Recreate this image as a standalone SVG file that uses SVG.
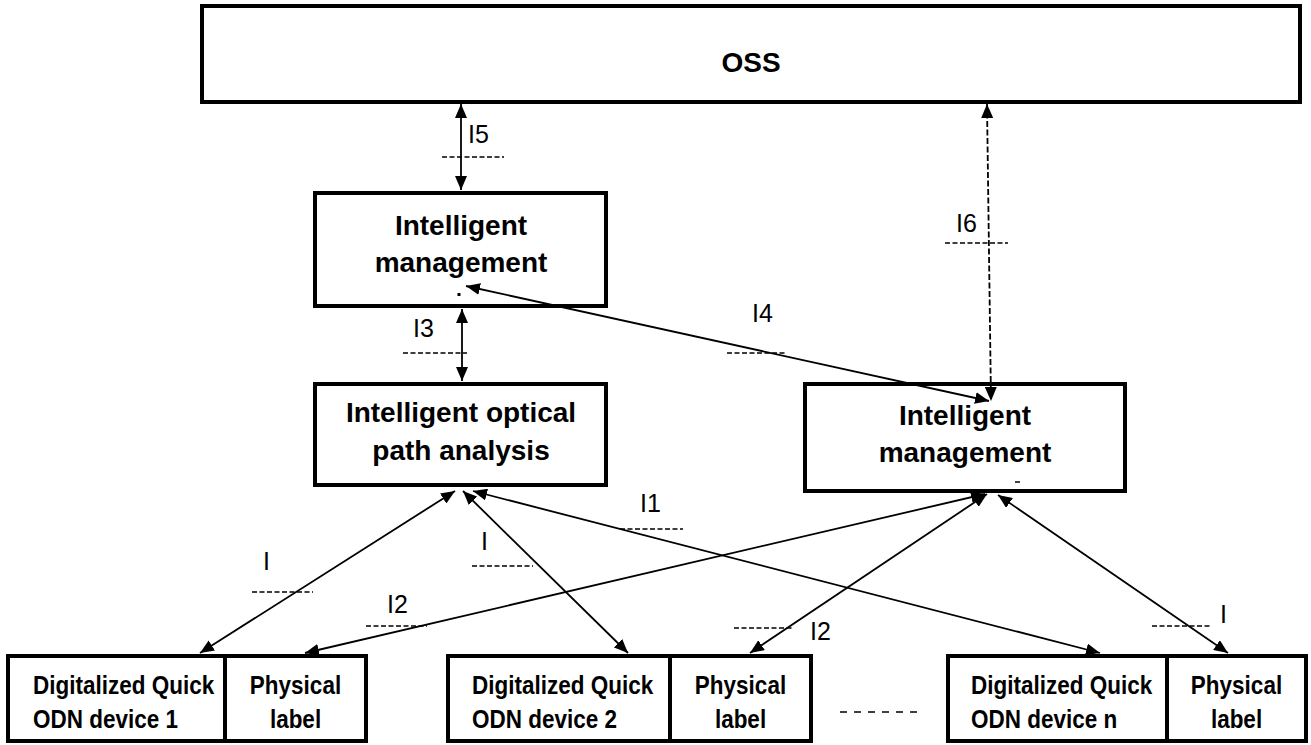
<svg xmlns="http://www.w3.org/2000/svg" width="1311" height="745" viewBox="0 0 1311 745">
  <defs>
    <marker id="ah" viewBox="0 0 14 12" refX="14" refY="6" markerWidth="14" markerHeight="12" orient="auto-start-reverse" markerUnits="userSpaceOnUse">
      <path d="M0,0 L14,6 L0,12 z" fill="#000"/>
    </marker>
    <style>
      .box { fill: #fff; stroke: #000; stroke-width: 4; }
      .t { font-family: "Liberation Sans", Arial, sans-serif; font-weight: bold; font-size: 28px; fill: #000; }
      .s { font-family: "Liberation Sans", Arial, sans-serif; font-weight: bold; font-size: 22.5px; fill: #000; }
      .lbl { font-family: "Liberation Sans", Arial, sans-serif; font-size: 25px; fill: #000; }
      .c { text-anchor: middle; }
      .link { fill: none; stroke: #000; stroke-width: 1.8; marker-start: url(#ah); marker-end: url(#ah); }
      .dlink { stroke-dasharray: 6 2.5; }
      .tick { fill: none; stroke: #000; stroke-width: 1.5; stroke-dasharray: 5 2.5; }
    </style>
  </defs>

  <rect width="1311" height="745" fill="#fff"/>

  <!-- top level -->
  <g id="oss">
    <rect class="box" x="202" y="6" width="1098" height="96"/>
    <text class="t c" x="751" y="72">OSS</text>
  </g>

  <g id="mgmt-left">
    <rect class="box" x="315" y="193" width="291" height="113"/>
    <text class="t c" x="461" y="235">Intelligent</text>
    <text class="t c" x="461" y="272">management</text>
    <rect x="457.5" y="293" width="3" height="3" fill="#000"/>
  </g>

  <g id="path-analysis">
    <rect class="box" x="315" y="384" width="291" height="101"/>
    <text class="t c" x="461" y="422">Intelligent optical</text>
    <text class="t c" x="461" y="460">path analysis</text>
  </g>

  <g id="mgmt-right">
    <rect class="box" x="805" y="384" width="320" height="107"/>
    <text class="t c" x="965" y="425">Intelligent</text>
    <text class="t c" x="965" y="462">management</text>
    <line x1="1015" y1="482" x2="1020" y2="482" stroke="#000" stroke-width="1.5"/>
  </g>

  <!-- ODN devices and their physical labels (text slightly stretched vertically) -->
  <g id="device-1">
    <rect class="box" x="8" y="656" width="217" height="85"/>
    <text class="s" transform="translate(33 694) scale(1 1.15)">Digitalized Quick</text>
    <text class="s" transform="translate(33 728) scale(1 1.15)">ODN device 1</text>
  </g>
  <g id="label-1">
    <rect class="box" x="225" y="656" width="141" height="85"/>
    <text class="s c" transform="translate(295.5 694) scale(1 1.15)">Physical</text>
    <text class="s c" transform="translate(295.5 728) scale(1 1.15)">label</text>
  </g>

  <g id="device-2">
    <rect class="box" x="448" y="656" width="222" height="85"/>
    <text class="s" transform="translate(472 694) scale(1 1.15)">Digitalized Quick</text>
    <text class="s" transform="translate(472 728) scale(1 1.15)">ODN device 2</text>
  </g>
  <g id="label-2">
    <rect class="box" x="670" y="656" width="141" height="85"/>
    <text class="s c" transform="translate(740.5 694) scale(1 1.15)">Physical</text>
    <text class="s c" transform="translate(740.5 728) scale(1 1.15)">label</text>
  </g>

  <g id="ellipsis">
    <line x1="840" y1="712" x2="919" y2="712" stroke="#000" stroke-width="1.6" stroke-dasharray="7 7"/>
  </g>

  <g id="device-n">
    <rect class="box" x="948" y="656" width="219" height="85"/>
    <text class="s" transform="translate(971 694) scale(1 1.15)">Digitalized Quick</text>
    <text class="s" transform="translate(971 728) scale(1 1.15)">ODN device n</text>
  </g>
  <g id="label-n">
    <rect class="box" x="1167" y="656" width="139" height="85"/>
    <text class="s c" transform="translate(1236.5 694) scale(1 1.15)">Physical</text>
    <text class="s c" transform="translate(1236.5 728) scale(1 1.15)">label</text>
  </g>

  <!-- interfaces -->
  <g id="connectors">
    <line class="link" x1="461" y1="104" x2="461" y2="190"/>
    <line class="link dlink" x1="987" y1="104" x2="991" y2="401"/>
    <line class="link" x1="462" y1="309" x2="462" y2="381"/>
    <line class="link" x1="466" y1="286" x2="989" y2="401"/>

    <line class="link" x1="455" y1="491" x2="200" y2="653"/>
    <line class="link" x1="463" y1="491" x2="628" y2="653"/>
    <line class="link" x1="473" y1="491" x2="1100" y2="653"/>

    <line class="link" x1="985" y1="494" x2="305" y2="653"/>
    <line class="link" x1="987" y1="494" x2="750" y2="653"/>
    <line class="link" x1="998" y1="495" x2="1228" y2="653"/>

    <line class="tick" x1="442" y1="157" x2="504" y2="157"/>
    <line class="tick" x1="945" y1="243" x2="1008" y2="243"/>
    <line class="tick" x1="403" y1="353" x2="467" y2="353"/>
    <line class="tick" x1="727" y1="353" x2="787" y2="353"/>
    <line class="tick" x1="252" y1="592" x2="313" y2="592"/>
    <line class="tick" x1="366" y1="626" x2="427" y2="626"/>
    <line class="tick" x1="472" y1="566" x2="533" y2="566"/>
    <line class="tick" x1="620" y1="529" x2="683" y2="529"/>
    <line class="tick" x1="734" y1="628" x2="794" y2="628"/>
    <line class="tick" x1="1152" y1="626" x2="1212" y2="626"/>

    <text class="lbl" x="468" y="143">I5</text>
    <text class="lbl" x="956" y="232">I6</text>
    <text class="lbl" x="413" y="337">I3</text>
    <text class="lbl" x="752" y="322">I4</text>
    <text class="lbl" x="263" y="570">I</text>
    <text class="lbl" x="387" y="613">I2</text>
    <text class="lbl" x="481" y="550">I</text>
    <text class="lbl" x="640" y="512">I1</text>
    <text class="lbl" x="810" y="640">I2</text>
    <text class="lbl" x="1220" y="623">I</text>
  </g>
</svg>
